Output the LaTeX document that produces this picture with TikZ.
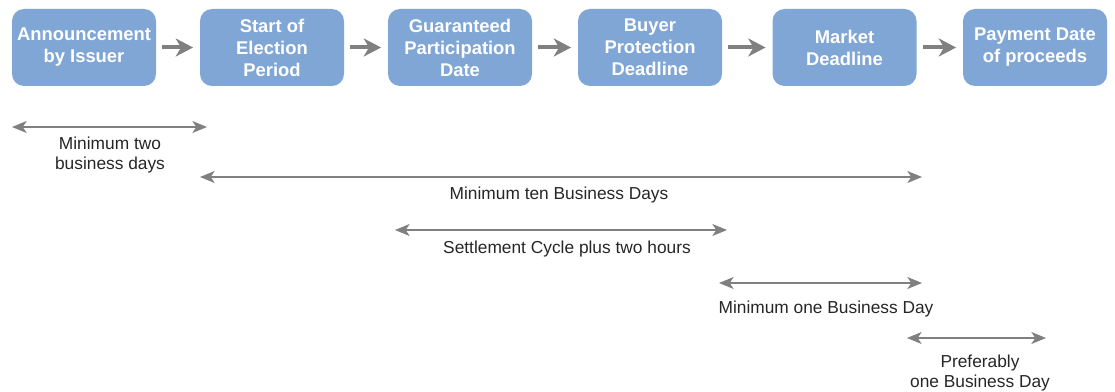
\documentclass[tikz,border=0pt]{standalone}
\usepackage{fontspec}
\setmainfont{Liberation Sans}
\usetikzlibrary{arrows.meta}
\definecolor{boxblue}{RGB}{128,166,214}
\definecolor{arrgray}{RGB}{128,128,128}
\begin{document}
\begin{tikzpicture}[x=0.75pt,y=-0.75pt,
  stage/.style={draw=none,fill=boxblue,rounded corners=9pt,minimum width=108pt,minimum height=57.75pt,
    inner sep=0pt,align=center,text=white,font=\fontsize{13.8pt}{16.5pt}\selectfont\bfseries},
  flow/.style={draw=arrgray,line width=3pt,-{Stealth[length=13pt,width=13.5pt,inset=4pt]},shorten <=4.5pt,shorten >=5pt},
  span/.style={draw=arrgray,line width=1.1pt,{Stealth[length=11pt,width=9pt,inset=3pt]}-{Stealth[length=11pt,width=9pt,inset=3pt]}},
  lbl/.style={align=center,inner sep=0pt,text=black!85,font=\fontsize{13pt}{15.5pt}\selectfont}]
\useasboundingbox (0,0) rectangle (1115,392);
\node[stage] (b1) at (84,47.5) {Announcement\\by Issuer};
\node[stage] (b2) at (272,47.5) {Start of\\Election\\Period};
\node[stage] (b3) at (460,47.5) {Guaranteed\\Participation\\Date};
\node[stage] (b4) at (650,47.5) {Buyer\\Protection\\Deadline};
\node[stage] (b5) at (844.5,47.5) {Market\\Deadline};
\node[stage] (b6) at (1035,47.5) {Payment Date\\of proceeds};
\draw[flow] (b1) -- (b2);
\draw[flow] (b2) -- (b3);
\draw[flow] (b3) -- (b4);
\draw[flow] (b4) -- (b5);
\draw[flow] (b5) -- (b6);
\coordinate (s1a) at (12,127); \coordinate (s1b) at (207,127);
\coordinate (s2a) at (200,177); \coordinate (s2b) at (922,177);
\coordinate (s3a) at (395,230); \coordinate (s3b) at (727,230);
\coordinate (s4a) at (719,283); \coordinate (s4b) at (922,283);
\coordinate (s5a) at (907,338); \coordinate (s5b) at (1046,338);
\draw[span] (s1a) -- (s1b);
\draw[span] (s2a) -- (s2b);
\draw[span] (s3a) -- (s3b);
\draw[span] (s4a) -- (s4b);
\draw[span] (s5a) -- (s5b);
\node[lbl] (l1) at (110,155) {Minimum two\\business days};
\node[lbl] (l2) at (559,195) {Minimum ten Business Days};
\node[lbl] (l3) at (567,249) {Settlement Cycle plus two hours};
\node[lbl] (l4) at (826,309) {Minimum one Business Day};
\node[lbl] (l5) at (980,373) {Preferably\\one Business Day};
\end{tikzpicture}
\end{document}
